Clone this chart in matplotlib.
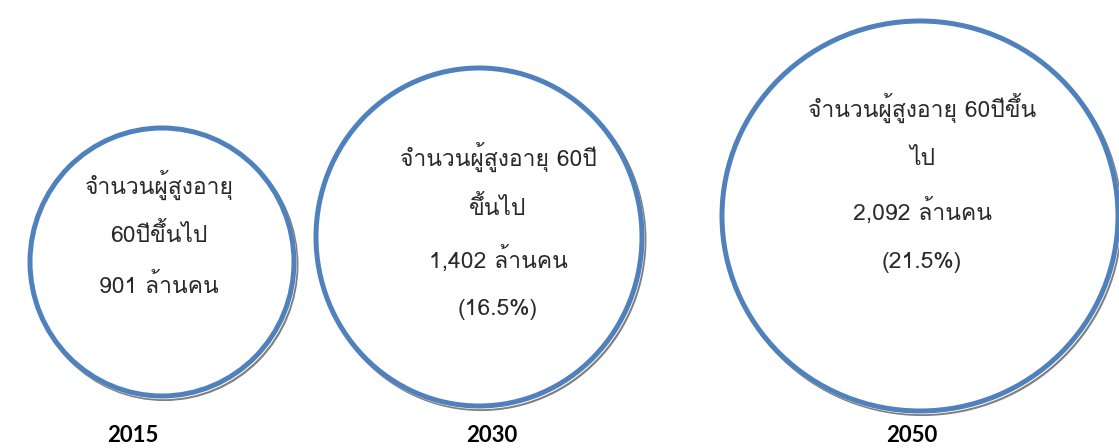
import matplotlib
matplotlib.use("Agg")
import matplotlib.pyplot as plt
from matplotlib.patches import Ellipse
from matplotlib import font_manager
from matplotlib.ft2font import FT2Font

# ---- data -------------------------------------------------------------
years = ["2015", "2030", "2050"]
elderly_millions = [901, 1402, 2092]          # people aged 60+ (millions)
share_percent = [None, 16.5, 21.5]            # share of world population
heading_lines = [
    ["จำนวนผู้สูงอายุ", "60ปีขึ้นไป"],
    ["จำนวนผู้สูงอายุ 60ปี", "ขึ้นไป"],
    ["จำนวนผู้สูงอายุ 60ปีขึ้น", "ไป"],
]

# ---- layout (pixel space) --------------------------------------------
W, H = 1119, 448
circle_centers = [(162, 262), (479, 237), (920, 216)]
circle_sizes = [(264, 268), (326, 338), (396, 390)]
text_x = [159, 498, 922]
text_top = [185, 157, 108]
line_step = [50.5, 51, 51.5]
year_x = [133, 492, 912]
year_y = 436

BLUE = "#4F81BD"
SHADOW = "#7F7F7F"


def thai_family():
    probe = "จำนวนผู้สูงอายุ"
    seen = set()
    for f in font_manager.fontManager.ttflist:
        if f.fname in seen:
            continue
        seen.add(f.fname)
        try:
            cmap = FT2Font(f.fname).get_charmap()
        except Exception:
            continue
        if all(ord(c) in cmap for c in probe):
            return f.name
    return None


tf = thai_family()
text_family = [tf, "DejaVu Sans"] if tf else ["DejaVu Sans"]

fig = plt.figure(figsize=(W / 100, H / 100), dpi=100)
ax = fig.add_axes([0, 0, 1, 1])
ax.set_xlim(0, W)
ax.set_ylim(H, 0)
ax.axis("off")

for i, ((cx, cy), (w, h)) in enumerate(zip(circle_centers, circle_sizes)):
    # drop shadow underneath the shape
    ax.add_patch(Ellipse((cx + 2.2, cy + 2.8), w + 4.5, h + 4.5,
                         facecolor=SHADOW, edgecolor="none", zorder=1))
    ax.add_patch(Ellipse((cx + 1.2, cy + 1.6), w + 3.2, h + 3.2,
                         facecolor="white", edgecolor="none", zorder=2))
    # the circle itself
    ax.add_patch(Ellipse((cx, cy), w, h, facecolor="white",
                         edgecolor=BLUE, linewidth=3.6, zorder=3))

    lines = list(heading_lines[i])
    lines.append(f"{elderly_millions[i]:,} ล้านคน")
    if share_percent[i] is not None:
        lines.append(f"({share_percent[i]:.1f}%)")
    for k, s in enumerate(lines):
        ax.text(text_x[i], text_top[i] + k * line_step[i], s,
                ha="center", va="center", fontsize=16.5,
                color="#2a2a2a", family=text_family, zorder=4)

    ax.text(year_x[i], year_y, years[i], ha="center", va="center",
            fontsize=16, fontweight="bold", family=["Lato", "DejaVu Sans"],
            color="black", zorder=4)

fig.savefig("out.png", dpi=100, facecolor="white")
